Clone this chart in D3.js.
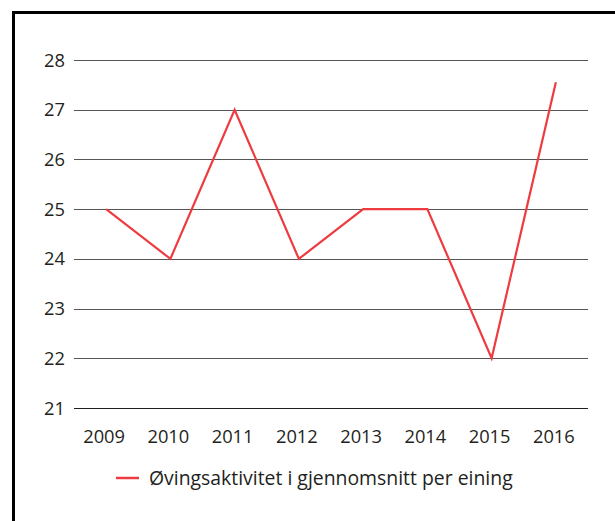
<!DOCTYPE html>
<html><head><meta charset="utf-8">
<script src="https://cdn.jsdelivr.net/npm/d3@7"></script>
<style>body{margin:0;background:#fff}svg{display:block}text{font-family:"Open Sans",sans-serif;fill:#231f20}</style>
</head><body>
<script>
const years = ["2009","2010","2011","2012","2013","2014","2015","2016"];
const values = [25, 24, 27, 24, 25, 25, 22, 27.55];
const yTicks = [21,22,23,24,25,26,27,28];
const seriesName = "Øvingsaktivitet i gjennomsnitt per eining";

const W=615,H=521;
const svg=d3.select("body").append("svg").attr("width",W).attr("height",H);
svg.append("rect").attr("x",13.5).attr("y",12.5).attr("width",W+10).attr("height",H+10)
  .attr("fill","none").attr("stroke","#000").attr("stroke-width",3);

const left=74,right=588;
const x=d3.scalePoint().domain(years).range([left,right]).padding(0.5);
const y=d3.scaleLinear().domain([21,28]).range([408,60]);

const g=svg.append("g");
g.selectAll("line.grid").data(yTicks).join("line").attr("class","grid")
  .attr("x1",left).attr("x2",right).attr("y1",d=>Math.round(y(d))+0.5).attr("y2",d=>Math.round(y(d))+0.5)
  .attr("stroke",d=>d===21?"#231f20":"#555").attr("stroke-width",1);

g.selectAll("text.yl").data(yTicks).join("text").attr("class","yl")
  .attr("x",65).attr("y",d=>y(d)).attr("dy","0.36em").attr("text-anchor","end")
  .attr("font-size",18.3).text(d=>d);

g.selectAll("text.xl").data(years).join("text").attr("class","xl")
  .attr("x",d=>x(d)-2).attr("y",443).attr("text-anchor","middle")
  .attr("font-size",18.3).text(d=>d);

const line=d3.line().x((d,i)=>x(years[i])).y(d=>y(d));
g.append("path").datum(values).attr("d",line).attr("fill","none")
  .attr("stroke","#ee3b3f").attr("stroke-width",2.2).attr("stroke-linejoin","miter");

const lg=svg.append("g");
lg.append("line").attr("x1",116).attr("x2",139).attr("y1",478).attr("y2",478)
  .attr("stroke","#ee3b3f").attr("stroke-width",2.5);
lg.append("text").attr("x",149).attr("y",478).attr("dy","0.36em").attr("font-size",19.4).text(seriesName);
</script>
</body></html>
